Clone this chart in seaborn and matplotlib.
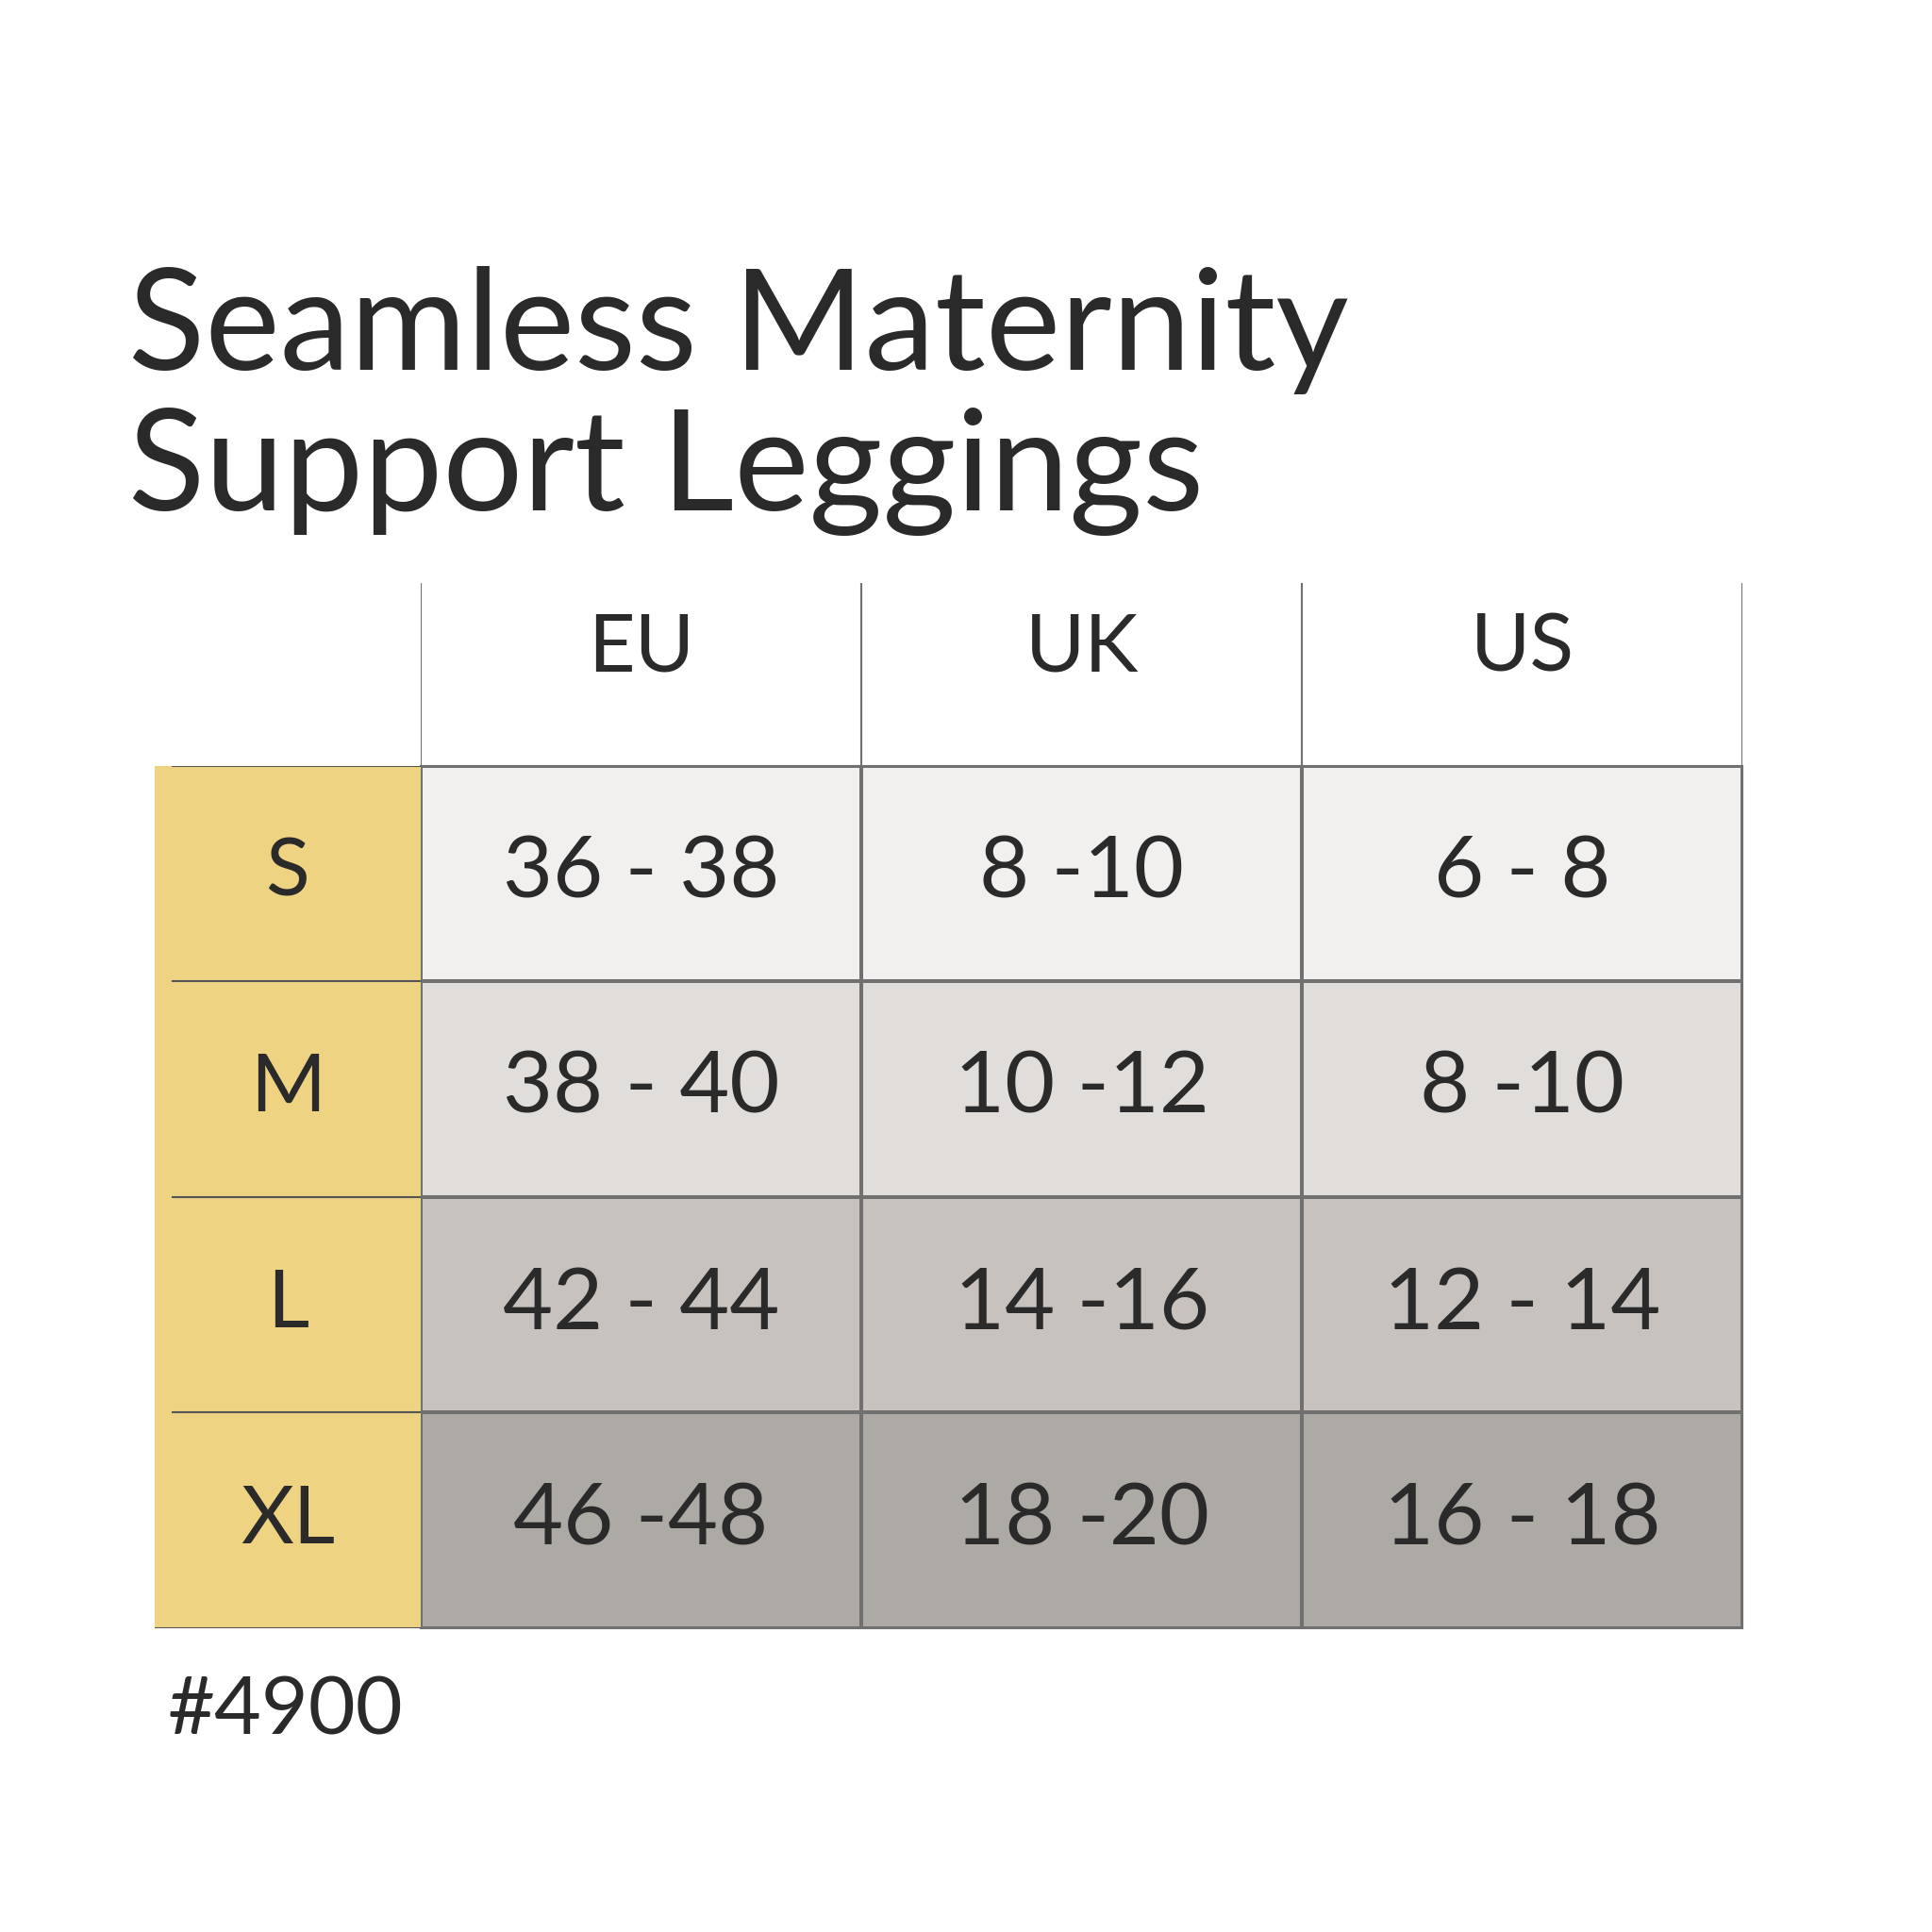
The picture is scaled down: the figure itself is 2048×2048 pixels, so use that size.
import matplotlib
matplotlib.use("Agg")
import matplotlib.pyplot as plt
import seaborn as sns
import numpy as np
from matplotlib.colors import ListedColormap

title = "Seamless Maternity\nSupport Leggings"
sizes = ["S", "M", "L", "XL"]
regions = ["EU", "UK", "US"]
eu = ["36 - 38", "38 - 40", "42 - 44", "46 -48"]
uk = ["8 -10", "10 -12", "14 -16", "18 -20"]
us = ["6 - 8", "8 -10", "12 - 14", "16 - 18"]
style_code = "#4900"

row_colors = ["#F2F0EE", "#E1DDDA", "#C7C2BD", "#ADA9A5"]
yellow = "#EED383"
txt = "#2a2a2a"
font = "Lato"

W = 1552.0
def fx(x): return x / W
def fy(y): return 1 - y / W

fig = plt.figure(figsize=(20.48, 20.48), dpi=100)
fig.patch.set_facecolor("white")

fig.text(fx(103), fy(322), title, fontsize=108, family=font, color=txt,
         va="center", ha="left", linespacing=1.12)

x0, x1 = 338, 1400
# data cells
labels = np.array([eu, uk, us]).T
vals = np.tile(np.arange(4)[:, None], (1, 3))
ax = fig.add_axes([fx(x0), fy(1308), fx(x1) - fx(x0), fy(615) - fy(1308)])
sns.heatmap(vals, ax=ax, cmap=ListedColormap(row_colors), cbar=False,
            annot=labels, fmt="", linewidths=1.5, linecolor="#707070",
            annot_kws={"fontsize": 66, "family": font, "color": txt})
ax.set_xticks([]); ax.set_yticks([])
for s in ["top", "bottom", "left", "right"]:
    ax.spines[s].set_visible(True)
    ax.spines[s].set_color("#707070")
    ax.spines[s].set_linewidth(1.5)

# size label column
axl = fig.add_axes([fx(124), fy(1308), fx(x0) - fx(124), fy(615) - fy(1308)])
sns.heatmap(np.zeros((4, 1)), ax=axl, cmap=ListedColormap([yellow]), cbar=False,
            annot=np.array(sizes)[:, None], fmt="", linewidths=0,
            annot_kws={"fontsize": 62, "family": font, "color": txt})
axl.set_xticks([]); axl.set_yticks([])
for i in range(4):
    axl.axhline(i, xmin=0.07, xmax=1, color="#555555", lw=1.5)
axl.axhline(4, xmin=0.0, xmax=1, color="#555555", lw=1.5)

# header
axh = fig.add_axes([fx(x0), fy(615), fx(x1) - fx(x0), fy(468) - fy(615)])
axh.set_xlim(0, 3); axh.set_ylim(0, 1)
axh.axis("off")
for i in range(4):
    axh.axvline(i, color="#707070", lw=1.5)
for i, r in enumerate(regions):
    axh.text(i + 0.5, 0.64, r, ha="center", va="center", fontsize=62,
             family=font, color=txt)

fig.text(fx(135), fy(1375), style_code, fontsize=62, family=font, color=txt,
         ha="left", va="center")

fig.savefig("out.png", dpi=100, facecolor="white")
